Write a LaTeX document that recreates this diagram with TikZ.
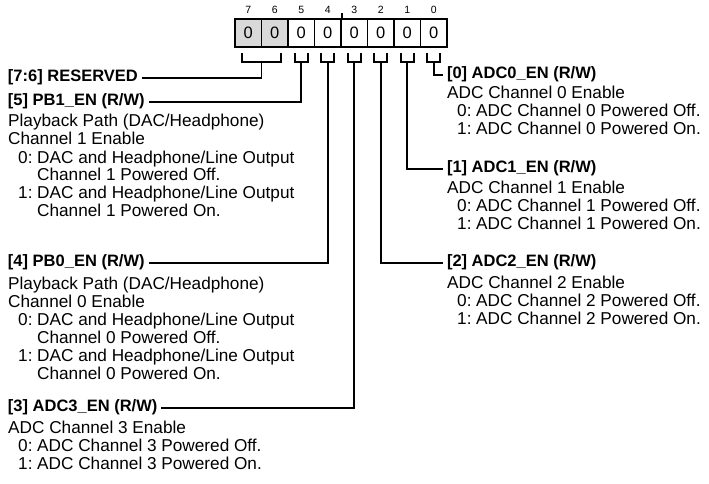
\documentclass[tikz,border=0pt]{standalone}
\usepackage{fontspec}
\setmainfont{Liberation Sans}
\newcommand\optlbl[1]{\hspace*{10pt}\makebox[19pt][l]{#1}}
\begin{document}
\begin{tikzpicture}[x=1pt,y=-1pt,
  txt/.style={font=\fontsize{17.2}{18}\selectfont, inner sep=0pt, anchor=base west},
  head/.style={font=\fontsize{16.5}{18}\bfseries\selectfont, inner sep=0pt, text height=0.72em, text depth=0pt, outer xsep=4pt, anchor=west},
  bitbox/.style={draw, line width=1.8pt, minimum width=26.5pt, minimum height=28pt, inner sep=0pt, font=\fontsize{16.5}{18}\selectfont},
  bitnum/.style={font=\fontsize{10.5}{12}\selectfont, inner sep=0pt},
  conn/.style={line width=1.8pt},
  brk/.style={line width=1.8pt},
]
\useasboundingbox (0,0) rectangle (709,484);
% register boxes
\foreach \i in {7,...,0}{
  \pgfmathsetmacro\cx{235+(7.5-\i)*26.5}
  \ifnum\i>5
    \node[bitbox, fill=gray!30] (bit\i) at (\cx,33) {0};
  \else
    \node[bitbox] (bit\i) at (\cx,33) {0};
  \fi
  \node[bitnum] (num\i) at (\cx,10) {\i};
}
\draw[line width=1.4pt] (bit4.north east) ++(0,0.9) -- ++(0,-6);
% brackets
\draw[brk] (241.75,53) -- (241.75,62) -- (281.25,62) -- (281.25,53);
\foreach \i in {5,...,0}{
  \pgfmathsetmacro\cx{235+(7.5-\i)*26.5}
  \draw[brk] (\cx-6.5,53) -- (\cx-6.5,62) -- (\cx+6.5,62) -- (\cx+6.5,53);
  \coordinate (s\i) at (\cx,62);
}
\coordinate (s76) at (261.5,62);
% left column
\node[head] (h76) at (4,78) {[7:6] RESERVED};
\node[head] (h5) at (4,102) {[5] PB1\_EN (R/W)};
\node[txt] (l5a) at (8,127) {Playback Path (DAC/Headphone)};
\node[txt] (l5b) at (8,145) {Channel 1 Enable};
\node[txt] (l5c) at (8,163) {\optlbl{0:}DAC and Headphone/Line Output};
\node[txt] (l5d) at (37,180) {Channel 1 Powered Off.};
\node[txt] (l5e) at (8,198) {\optlbl{1:}DAC and Headphone/Line Output};
\node[txt] (l5f) at (37,216) {Channel 1 Powered On.};
\node[head] (h4) at (4,263) {[4] PB0\_EN (R/W)};
\node[txt] (l4a) at (8,289) {Playback Path (DAC/Headphone)};
\node[txt] (l4b) at (8,307) {Channel 0 Enable};
\node[txt] (l4c) at (8,325) {\optlbl{0:}DAC and Headphone/Line Output};
\node[txt] (l4d) at (37,343) {Channel 0 Powered Off.};
\node[txt] (l4e) at (8,361) {\optlbl{1:}DAC and Headphone/Line Output};
\node[txt] (l4f) at (37,379) {Channel 0 Powered On.};
\node[head] (h3) at (4,408) {[3] ADC3\_EN (R/W)};
\node[txt] (l3a) at (8,433) {ADC Channel 3 Enable};
\node[txt] (l3b) at (8,451) {\optlbl{0:}ADC Channel 3 Powered Off.};
\node[txt] (l3c) at (8,469) {\optlbl{1:}ADC Channel 3 Powered On.};
% right column
\node[head] (h0) at (443,75) {[0] ADC0\_EN (R/W)};
\node[txt] (l0a) at (447,99) {ADC Channel 0 Enable};
\node[txt] (l0b) at (447,117) {\optlbl{0:}ADC Channel 0 Powered Off.};
\node[txt] (l0c) at (447,135) {\optlbl{1:}ADC Channel 0 Powered On.};
\node[head] (h1) at (443,169) {[1] ADC1\_EN (R/W)};
\node[txt] (l1a) at (447,193) {ADC Channel 1 Enable};
\node[txt] (l1b) at (447,211) {\optlbl{0:}ADC Channel 1 Powered Off.};
\node[txt] (l1c) at (447,229) {\optlbl{1:}ADC Channel 1 Powered On.};
\node[head] (h2) at (443,263) {[2] ADC2\_EN (R/W)};
\node[txt] (l2a) at (447,288) {ADC Channel 2 Enable};
\node[txt] (l2b) at (447,306) {\optlbl{0:}ADC Channel 2 Powered Off.};
\node[txt] (l2c) at (447,324) {\optlbl{1:}ADC Channel 2 Powered On.};
% connectors
\draw[conn] (s76) |- (h76.east);
\draw[conn] (s5) |- (h5.east);
\draw[conn] (s4) |- (h4.east);
\draw[conn] (s3) |- (h3.east);
\draw[conn] (s2) |- (h2.west);
\draw[conn] (s1) |- (h1.west);
\draw[conn] (s0) |- (h0.west);
\end{tikzpicture}
\end{document}
